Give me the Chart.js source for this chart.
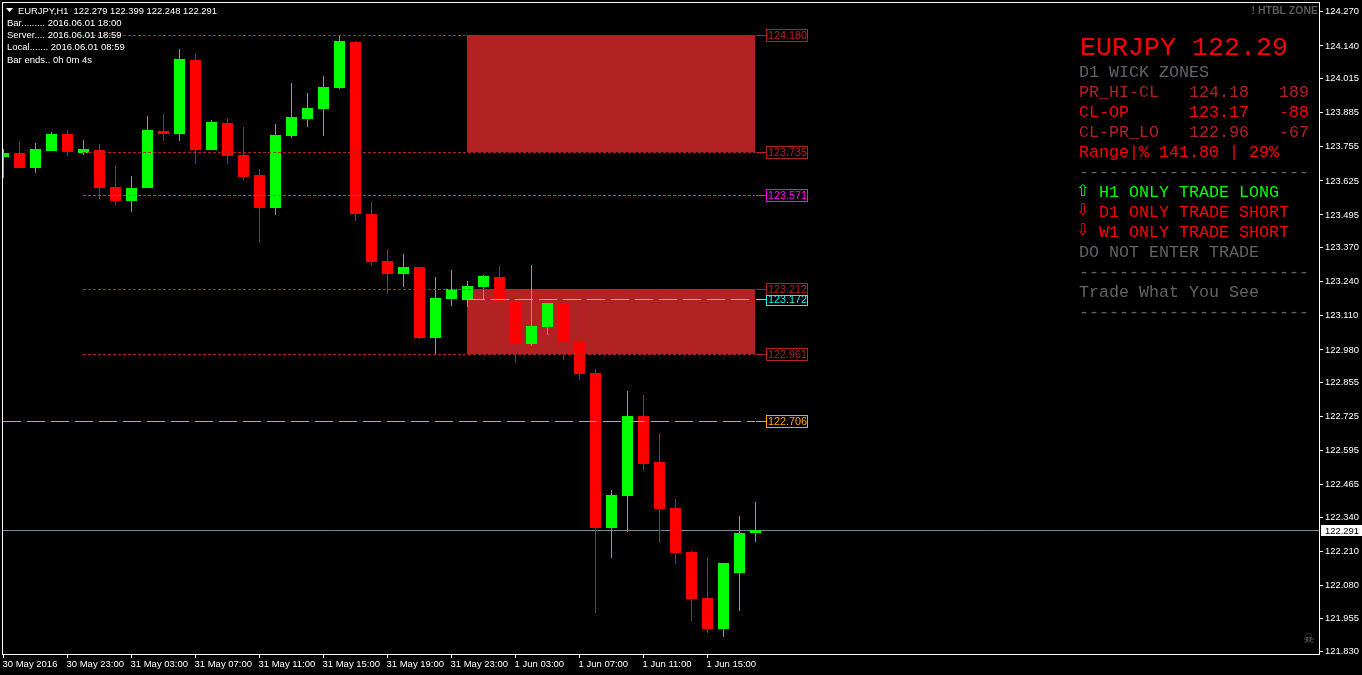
<!DOCTYPE html>
<html><head><meta charset="utf-8">
<style>html,body{margin:0;padding:0;background:#000}canvas{display:block}</style>
<script src="https://cdn.jsdelivr.net/npm/chart.js@4"></script>
</head><body><canvas id="c" width="1362" height="675"></canvas>
<script>
// ----- data -----
const open  = [123.715,123.731,123.673,123.738,123.803,123.731,123.742,123.601,123.548,123.597,123.814,123.803,124.085,123.742,123.845,123.723,123.647,123.521,123.795,123.860,123.898,123.978,124.154,123.498,123.319,123.269,123.296,123.025,123.174,123.170,123.220,123.258,123.166,123.002,123.067,123.159,123.014,122.892,122.301,122.423,122.728,122.552,122.377,122.209,122.034,121.916,122.129,122.279];
const high  = [123.746,123.776,123.769,123.811,123.818,123.780,123.765,123.685,123.643,123.872,123.879,124.127,124.112,123.856,123.864,123.830,123.670,123.841,123.997,123.959,124.024,124.180,124.158,123.544,123.365,123.346,123.296,123.258,123.285,123.243,123.265,123.300,123.201,123.304,123.159,123.159,123.170,122.907,122.446,122.823,122.808,122.663,122.411,122.213,122.190,122.167,122.347,122.399];
const low   = [123.635,123.673,123.654,123.738,123.719,123.723,123.555,123.532,123.506,123.597,123.776,123.776,123.689,123.742,123.689,123.628,123.387,123.494,123.788,123.830,123.795,123.975,123.471,123.300,123.193,123.220,123.021,122.960,123.147,123.143,123.170,123.136,122.930,122.995,123.037,122.941,122.865,121.977,122.187,122.286,122.518,122.244,122.164,121.943,121.897,121.885,121.981,122.248];
const close = [123.731,123.673,123.746,123.803,123.734,123.746,123.597,123.548,123.597,123.818,123.803,124.089,123.742,123.849,123.719,123.639,123.521,123.799,123.868,123.902,123.982,124.158,123.498,123.315,123.269,123.296,123.025,123.178,123.212,123.223,123.262,123.162,123.002,123.071,123.159,123.010,122.888,122.301,122.427,122.728,122.545,122.373,122.206,122.030,121.916,122.167,122.282,122.291];

const yTickValues = [124.270,124.140,124.015,123.885,123.755,123.625,123.495,123.370,123.240,123.110,122.980,122.855,122.725,122.595,122.465,122.340,122.210,122.080,121.955,121.830];
const xTickBars   = [0,4,8,12,16,20,24,28,32,36,40,44];
const xTickLabels = ['30 May 2016','30 May 23:00','31 May 03:00','31 May 07:00','31 May 11:00','31 May 15:00','31 May 19:00','31 May 23:00','1 Jun 03:00','1 Jun 07:00','1 Jun 11:00','1 Jun 15:00'];

const lastPrice = 122.291;
const zoneBarFrom = 29, zoneBarTo = 47;
const zoneA = [124.180,123.735];
const zoneB = [123.212,122.961];

const levelPrices = [124.180,123.735,123.571,123.212,122.961,123.172,122.706];
const levelStarts = [5,5,5,5,5,29,0];
const levelDashes = [[3,2],[3,2],[3,2],[3,2],[3,2],[18,6],[18,6]];
const levelColors = ['#B22222','#B22222','#FF00FF','#B22222','#B22222','#20F0F0','#FFA500'];

const infoLines = ['Bar......... 2016.06.01 18:00','Server.... 2016.06.01 18:59','Local....... 2016.06.01 08:59','Bar ends.. 0h 0m 4s'];
const headerText = 'EURJPY,H1  122.279 122.399 122.248 122.291';

const GREY='#5f6468', FIRE='#B22222', RED='#FF0000', LIME='#00FF00';
const panelLines = [
 ['D1 WICK ZONES',GREY],
 ['PR_HI-CL   124.18   189',FIRE],
 ['CL-OP      123.17   -88',RED],
 ['CL-PR_LO   122.96   -67',FIRE],
 ['Range|% 141.80 | 29%',RED],
 ['-----------------------',GREY],
 ['  H1 ONLY TRADE LONG',LIME],
 ['  D1 ONLY TRADE SHORT',RED],
 ['  W1 ONLY TRADE SHORT',RED],
 ['DO NOT ENTER TRADE',GREY],
 ['-----------------------',GREY],
 ['Trade What You See',GREY],
 ['-----------------------',GREY]
];
const panelArrows = [['\u21E7',LIME,192],['\u21E9',RED,211],['\u21E9',RED,231]];

// ----- chart -----
const UI='"Liberation Sans"';
const barX = open.map((_,i)=>i);
const candleColor = open.map((o,i)=>close[i]>=o?LIME:RED);

const datasets = [
 {type:'bar',label:'bodies',order:1,grouped:false,barThickness:11,inflateAmount:0,borderWidth:0,
  data:barX.map(i=>({x:i,y:[open[i],close[i]]})),backgroundColor:candleColor},
 {type:'bar',label:'wicks',order:2,grouped:false,barThickness:1,inflateAmount:0,borderWidth:0,
  data:barX.map(i=>({x:i,y:[low[i],high[i]]})),backgroundColor:candleColor},
 {type:'line',label:'last',order:3,data:[{x:-1,y:lastPrice},{x:90,y:lastPrice}],borderColor:'#778899',borderWidth:1,pointRadius:0},
 ...levelPrices.map((p,i)=>({type:'line',label:'L'+p,order:0,
   data:[{x:levelStarts[i],y:p},{x:47,y:p}],borderColor:levelColors[i],borderWidth:1,borderDash:levelDashes[i],pointRadius:0}))
];

const snap = {id:'snap',afterDatasetsUpdate(chart){
  chart.getSortedVisibleDatasetMetas().forEach(m=>{
    if(m.type==='bar'){m.data.forEach(el=>{el.y=Math.floor(el.y+0.25);el.base=Math.floor(el.base+0.25);});}
    else{m.data.forEach(el=>{el.y=Math.floor(el.y)+0.5;el.x=Math.floor(el.x);});}
  });
}};

const zones = {id:'zones',beforeDatasetsDraw(chart){
  const {ctx,scales:{x,y}}=chart;
  ctx.save();ctx.fillStyle=FIRE;
  [zoneA,zoneB].forEach(z=>{
    const l=Math.floor(x.getPixelForValue(zoneBarFrom)),r=Math.floor(x.getPixelForValue(zoneBarTo));
    const t=Math.floor(y.getPixelForValue(z[0])),b=Math.floor(y.getPixelForValue(z[1]));
    ctx.fillRect(l,t,r-l,b-t);
  });
  ctx.restore();
}};

const overlay = {id:'overlay',afterDraw(chart){
  const {ctx,chartArea:a,scales:{y}}=chart;
  ctx.save();
  // frame
  ctx.strokeStyle='#fff';ctx.lineWidth=1;
  ctx.strokeRect(a.left+.5,a.top+.5,a.right-a.left,a.bottom-a.top);
  // level tags
  ctx.font='10.8px '+UI;ctx.textBaseline='middle';ctx.textAlign='left';
  levelPrices.forEach((p,i)=>{
    const r=Math.floor(y.getPixelForValue(p));
    const c=levelColors[i];
    ctx.strokeStyle=c;ctx.fillStyle=c;
    ctx.beginPath();ctx.moveTo(756,r+.5);ctx.lineTo(766,r+.5);ctx.stroke();
    const t=p===123.172?r-4:r-6, h=p===123.172?10:12;
    ctx.strokeRect(766.5,t+.5,41,h);
    ctx.fillText(p.toFixed(3),768,r+1);
  });
  // last price tag
  const lr=Math.floor(y.getPixelForValue(lastPrice));
  ctx.fillStyle='#fff';ctx.fillRect(1321,lr-5,41,11);
  ctx.fillStyle='#000';ctx.font='9.4px '+UI;ctx.fillText(lastPrice.toFixed(3),1325,lr+1);
  // header
  ctx.fillStyle='#fff';
  ctx.beginPath();ctx.moveTo(6,8);ctx.lineTo(13,8);ctx.lineTo(9.5,12);ctx.closePath();ctx.fill();
  ctx.font='9.4px '+UI;ctx.fillText(headerText,18,11);
  ctx.font='9.5px '+UI;
  infoLines.forEach((t,i)=>ctx.fillText(t,7,[23,35,47,60][i]));
  // corner mark
  ctx.fillStyle='#5a5a5a';ctx.font='bold 10.5px '+UI;ctx.textAlign='right';
  ctx.fillText('! HTBL ZONE',1318,11);
  ctx.textAlign='left';ctx.font='13px "DejaVu Sans"';ctx.fillStyle='#6b6b6b';ctx.fillText('\u2620',1303,640);
  // panel
  ctx.font='26.67px "Liberation Mono"';ctx.fillStyle=RED;ctx.fillText('EURJPY 122.29',1080,48);
  ctx.font='16.67px "Liberation Mono"';
  panelLines.forEach((l,i)=>{ctx.fillStyle=l[1];ctx.fillText(l[0],1079,73+i*20);});
  ctx.font='16px "DejaVu Sans"';
  panelArrows.forEach(l=>{ctx.fillStyle=l[1];ctx.fillText(l[0],1076,l[2]);});
  ctx.restore();
}};

function noPad(s){s.paddingTop=0;s.paddingBottom=0;s.paddingLeft=0;s.paddingRight=0;}

new Chart(document.getElementById('c'),{
  data:{datasets},
  plugins:[snap,zones,overlay],
  options:{
    responsive:false,animation:false,
    layout:{autoPadding:false,padding:{left:2,top:2,right:0,bottom:0}},
    plugins:{legend:{display:false},title:{display:false},tooltip:{enabled:false}},
    scales:{
      x:{type:'linear',position:'bottom',offset:false,min:-0.09375,max:82.21875,
        afterBuildTicks(s){s.ticks=xTickBars.map(v=>({value:v}));},
        afterFit(s){s.height=21;noPad(s);},
        border:{display:false},
        grid:{offset:false,drawOnChartArea:false,drawTicks:true,tickLength:4,color:'#fff'},
        ticks:{color:'#fff',font:{family:'Liberation Sans',size:9.5},align:'start',padding:1,labelOffset:-1,autoSkip:false,maxRotation:0,
          callback:v=>xTickLabels[xTickBars.indexOf(v)]}},
      y:{type:'linear',position:'right',min:121.8197,max:124.3078,
        afterBuildTicks(s){s.ticks=yTickValues.map(v=>({value:v}));},
        afterFit(s){s.width=43;noPad(s);},
        border:{display:false},
        grid:{drawOnChartArea:false,drawTicks:true,tickLength:4,color:'#fff'},
        ticks:{color:'#fff',font:{family:'Liberation Sans',size:9.4},padding:2,autoSkip:false,
          callback:v=>v.toFixed(3)}}
    }
  }
});
</script></body></html>
